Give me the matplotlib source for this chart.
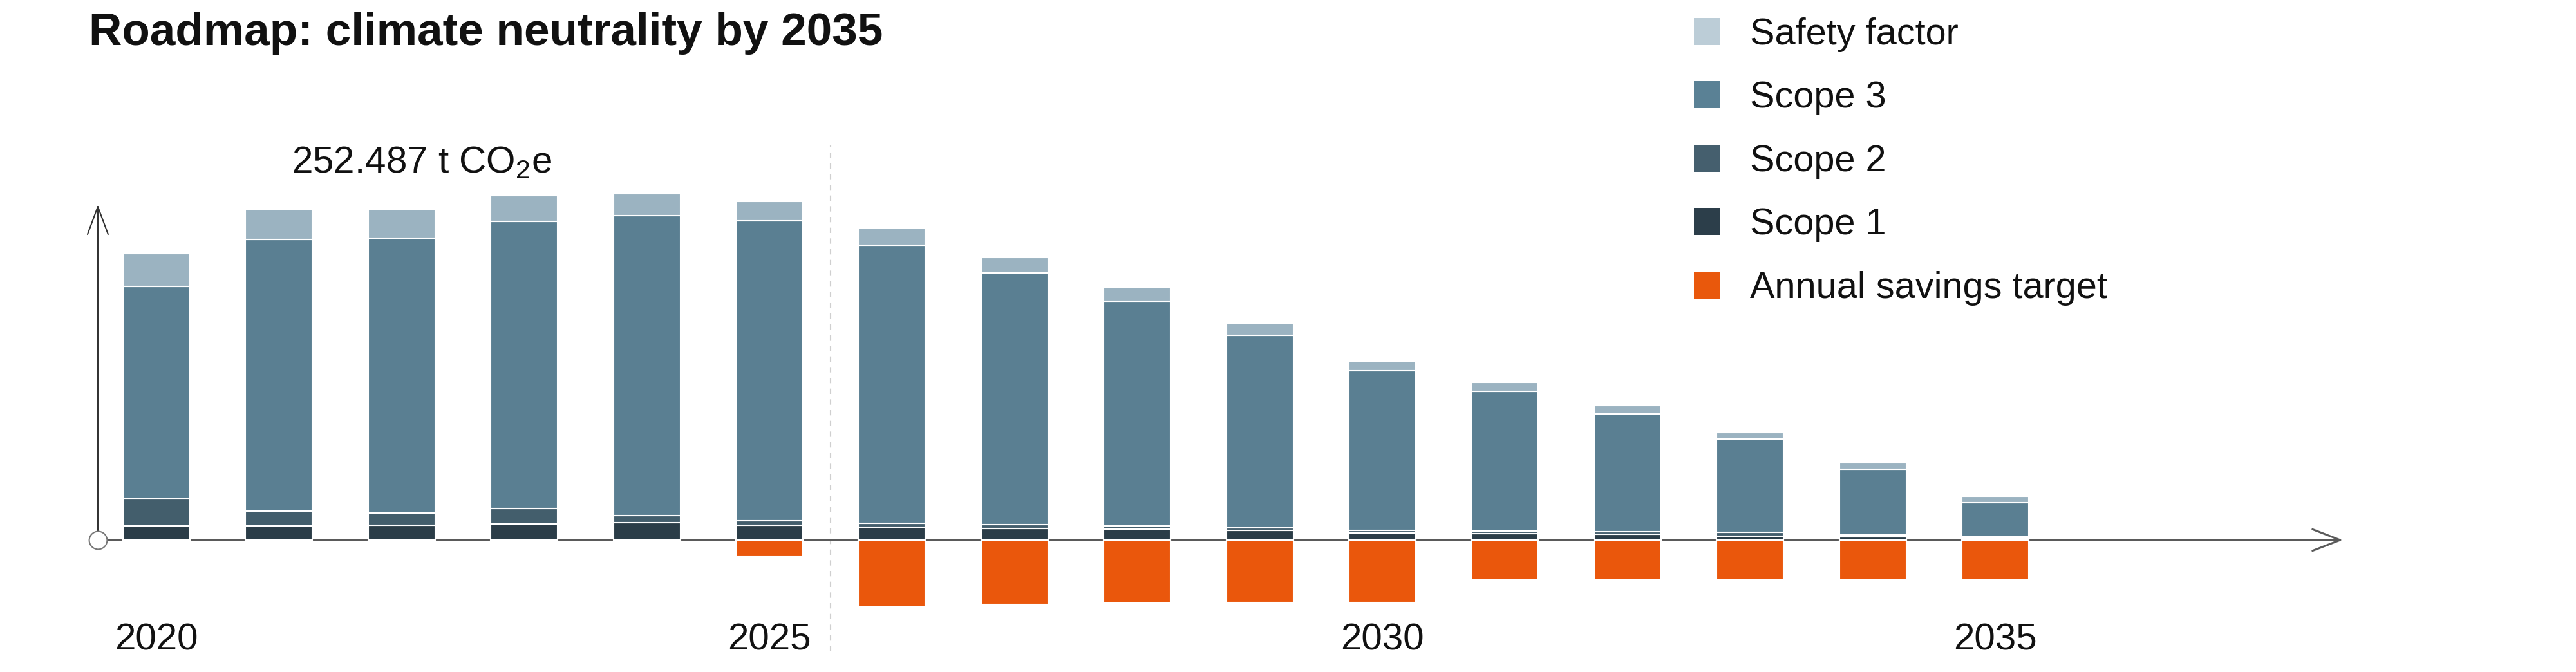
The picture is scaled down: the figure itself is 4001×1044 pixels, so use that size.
import matplotlib.pyplot as plt
from matplotlib.patches import Rectangle

plt.rcParams['font.family'] = ['Liberation Sans', 'DejaVu Sans']
plt.rcParams['mathtext.fontset'] = 'custom'
plt.rcParams['mathtext.rm'] = 'Liberation Sans'

# === DATA (kt CO2e) ===
years = list(range(2020, 2036))
scope1 = [11, 11, 11.5, 12.5, 13.5, 11.5, 10, 9, 8.5, 7.5, 5.5, 5, 4.5, 3, 2.5, 1.5]
scope2 = [21, 11.5, 9.5, 12, 5.5, 3.5, 3, 3, 2.5, 2, 2, 2, 2, 3, 1.5, 1]
scope3 = [165, 211, 213.5, 223, 233, 233, 216, 195.5, 174.5, 149.5, 124, 108.5, 91.5, 72.5, 51, 26.5]
safety = [25.5, 23.5, 22.5, 20, 17, 15, 13.5, 12, 11, 9.5, 7.5, 7, 6.5, 5, 5, 5]
savings = [0, 0, 0, 0, 0, 13, 52, 50, 49, 48.5, 48.5, 31, 31, 31, 31, 31]
year_labels = [2020, 2025, 2030, 2035]
forecast_start = 2025.5
total_label = "252.487 t CO$_2$e"
title = "Roadmap: climate neutrality by 2035"

legend_names = ["Safety factor", "Scope 3", "Scope 2", "Scope 1", "Annual savings target"]
legend_colors = ["#bccdd7", "#5a8195", "#455f6e", "#2c3e4a", "#e9580c"]

c_safety = "#9bb3c1"
c_s3 = "#5a7f92"
c_s2 = "#435e6c"
c_s1 = "#2b3d48"
c_orange = "#ea570c"

W, H = 4001, 1044
fig = plt.figure(figsize=(W / 100, H / 100), dpi=100)
ax = fig.add_axes([0, 0, 1, 1])
ax.set_xlim(2018.724, 2039.737)
ax.set_ylim(-102.5, 419.5)
ax.axis('off')

bw = 0.546
b2 = [a for a in scope1]
b3 = [a + b for a, b in zip(scope1, scope2)]
b4 = [a + b + c for a, b, c in zip(scope1, scope2, scope3)]
kw = dict(width=bw, edgecolor='white', linewidth=1.5, zorder=3)
ax.bar(years, scope1, color=c_s1, **kw)
ax.bar(years, scope2, bottom=b2, color=c_s2, **kw)
ax.bar(years, scope3, bottom=b3, color=c_s3, **kw)
ax.bar(years, safety, bottom=b4, color=c_safety, **kw)
ax.bar(years, [-s for s in savings], color=c_orange, **kw)

# axes with arrows
x0 = 2019.522
ax.annotate('', xy=(2037.836, 0), xytext=(x0, 0),
            arrowprops=dict(arrowstyle='->,head_length=3.1,head_width=1.2', mutation_scale=10,
                            color='#5a5a5a', lw=2.2, shrinkA=0, shrinkB=0), zorder=1)
ax.annotate('', xy=(x0, 260.5), xytext=(x0, 0),
            arrowprops=dict(arrowstyle='->,head_length=3.1,head_width=1.15', mutation_scale=10,
                            color='#333333', lw=1.5, shrinkA=0, shrinkB=0), zorder=1)
ax.plot([x0], [0], marker='o', markersize=20, mfc='white', mec='#777777', mew=1.5, zorder=5)

ax.plot([forecast_start, forecast_start], [-86.5, 307], ls=(0, (4, 4)), color='#cfcfcf', lw=1.5, zorder=0)

for yr in year_labels:
    ax.text(yr, -85.5, str(yr), ha='center', va='baseline', fontsize=42, color='#111111')

fig.text(138 / W, 1 - 70 / H, title, fontsize=51.2, fontweight='bold', va='baseline', color='#111111')
fig.text(453 / W, 1 - 268 / H, total_label, fontsize=42, va='baseline', color='#111111')

# legend
for i, (name, col) in enumerate(zip(legend_names, legend_colors)):
    top = 28 + i * 98.4
    fig.add_artist(Rectangle((2631 / W, 1 - (top + 42) / H), 41 / W, 42 / H,
                             transform=fig.transFigure, facecolor=col, edgecolor='none'))
    fig.text(2718 / W, 1 - (top + 21 + 20) / H, name, fontsize=41.5, va='baseline', color='#111111')

fig.savefig('out.png', dpi=100)
